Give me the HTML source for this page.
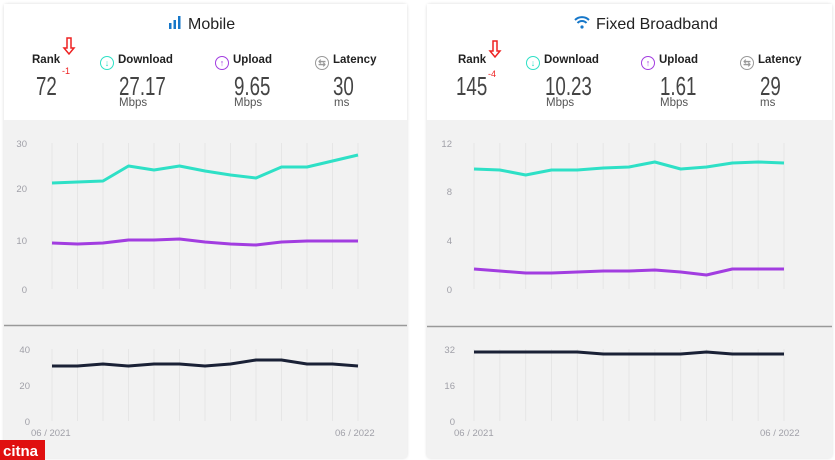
<!DOCTYPE html>
<html><head><meta charset="utf-8"><style>
body{margin:0;width:835px;height:460px;background:#fff;position:relative;overflow:hidden;font-family:"Liberation Sans",sans-serif}
.card{position:absolute;top:4px;height:454px;background:#f2f2f2;box-shadow:0 0 3px rgba(0,0,0,.15);border-radius:3px}
.hdr{position:absolute;left:0;right:0;top:0;height:116px;background:#fff}
.lab{position:absolute;top:54px;font-size:11.5px;font-weight:bold;color:#222}
.val{position:absolute;top:71px;font-size:26px;color:#444;font-weight:300;transform:scaleX(.72);transform-origin:left}
.unit{position:absolute;top:97px;font-size:11.5px;color:#555}
.ic{display:inline-block;width:12px;height:12px;border:1.3px solid;border-radius:50%;font-size:9px;line-height:12px;text-align:center;vertical-align:-3px;margin-right:4px}
</style></head><body>
<div class="card" style="left:4px;width:403px"><div class="hdr"></div></div>
<div class="card" style="left:427px;width:405px"><div class="hdr"></div></div>
<svg width="835" height="460" style="position:absolute;left:0;top:0" font-family="Liberation Sans,sans-serif">
<g fill="#1677c9"><rect x="169" y="23" width="2.5" height="6"/><rect x="173.5" y="20" width="2.5" height="9"/><rect x="178" y="16" width="2.5" height="13"/></g>
<text x="188" y="29" font-size="16" fill="#222">Mobile</text>
<text x="596" y="29" font-size="16" fill="#222">Fixed Broadband</text>
<path d="M575 20 a10 10 0 0 1 14 0 M577.5 23 a6 6 0 0 1 9 0" stroke="#1677c9" stroke-width="2" fill="none"/><circle cx="582" cy="27" r="1.6" fill="#1677c9"/>
<g stroke="#e22" stroke-width="1.5" fill="none"><path d="M67 38v10h-3l5 6 5-6h-3v-10z"/><path d="M493 41v10h-3l5 6 5-6h-3v-10z"/></g>
<text x="62" y="74" font-size="9" fill="#e22">-1</text><text x="488" y="77" font-size="9" fill="#e22">-4</text>
<g stroke="#999" stroke-width="1.5"><line x1="4" y1="325.5" x2="407" y2="325.5"/><line x1="427" y1="326.5" x2="832" y2="326.5"/></g>
<g stroke="#e6e6e6" stroke-width="1">
<path d="M52 143V289M77.5 143V289M103 143V289M128.5 143V289M154 143V289M179.5 143V289M205 143V289M230.5 143V289M256 143V289M281.5 143V289M307 143V289M332.5 143V289M358 143V289"/>
<path d="M52 349V421M77.5 349V421M103 349V421M128.5 349V421M154 349V421M179.5 349V421M205 349V421M230.5 349V421M256 349V421M281.5 349V421M307 349V421M332.5 349V421M358 349V421"/>
<path d="M474 143V289M499.8 143V289M525.7 143V289M551.5 143V289M577.3 143V289M603.2 143V289M629 143V289M654.8 143V289M680.7 143V289M706.5 143V289M732.3 143V289M758.2 143V289M784 143V289"/>
<path d="M474 349V421M499.8 349V421M525.7 349V421M551.5 349V421M577.3 349V421M603.2 349V421M629 349V421M654.8 349V421M680.7 349V421M706.5 349V421M732.3 349V421M758.2 349V421M784 349V421"/>
</g>
<g font-size="9.5" fill="#a0a0a8" text-anchor="end">
<text x="27" y="147">30</text><text x="27" y="192">20</text><text x="27" y="244">10</text><text x="27" y="293">0</text>
<text x="30" y="353">40</text><text x="30" y="389">20</text><text x="30" y="425">0</text>
<text x="452" y="147">12</text><text x="452" y="195">8</text><text x="452" y="244">4</text><text x="452" y="293">0</text>
<text x="455" y="353">32</text><text x="455" y="389">16</text><text x="455" y="425">0</text>
</g>
<g font-size="9.5" fill="#a0a0a8"><text x="31" y="436">06 / 2021</text><text x="335" y="436">06 / 2022</text><text x="454" y="436">06 / 2021</text><text x="760" y="436">06 / 2022</text></g>
<g fill="none" stroke-width="3" stroke-linejoin="round">
<polyline stroke="#2ee0c6" points="52,183 77.5,182 103,181 128.5,166 154,170 179.5,166 205,171 230.5,175 256,178 281.5,167 307,167 332.5,161 358,155"/>
<polyline stroke="#a23de0" points="52,243 77.5,244 103,243 128.5,240 154,240 179.5,239 205,242 230.5,244 256,245 281.5,242 307,241 332.5,241 358,241"/>
<polyline stroke="#1a2136" points="52,366 77.5,366 103,364 128.5,366 154,364 179.5,364 205,366 230.5,364 256,360 281.5,360 307,364 332.5,364 358,366"/>
<polyline stroke="#2ee0c6" points="474,169 499.8,170 525.7,175 551.5,170 577.3,170 603.2,168 629,167 654.8,162 680.7,169 706.5,167 732.3,163 758.2,162 784,163"/>
<polyline stroke="#a23de0" points="474,269 499.8,271 525.7,273 551.5,273 577.3,272 603.2,271 629,271 654.8,270 680.7,272 706.5,275 732.3,269 758.2,269 784,269"/>
<polyline stroke="#1a2136" points="474,352 499.8,352 525.7,352 551.5,352 577.3,352 603.2,354 629,354 654.8,354 680.7,354 706.5,352 732.3,354 758.2,354 784,354"/>
</g>
<rect x="0" y="440" width="45" height="20" fill="#e01010"/>
<text x="3" y="456" font-size="15" font-weight="bold" fill="#fff">citna</text>
</svg>
<div class="lab" style="left:32px">Rank</div>
<div class="lab" style="left:100px"><span class="ic" style="border-color:#2ee0c6;color:#2ee0c6">↓</span>Download</div>
<div class="lab" style="left:215px"><span class="ic" style="border-color:#a23de0;color:#a23de0">↑</span>Upload</div>
<div class="lab" style="left:315px"><span class="ic" style="border-color:#999;color:#999">⇆</span>Latency</div>
<div class="val" style="left:36px">72</div>
<div class="val" style="left:119px">27.17</div><div class="unit" style="left:119px">Mbps</div>
<div class="val" style="left:234px">9.65</div><div class="unit" style="left:234px">Mbps</div>
<div class="val" style="left:333px">30</div><div class="unit" style="left:334px">ms</div>
<div class="lab" style="left:458px">Rank</div>
<div class="lab" style="left:526px"><span class="ic" style="border-color:#2ee0c6;color:#2ee0c6">↓</span>Download</div>
<div class="lab" style="left:641px"><span class="ic" style="border-color:#a23de0;color:#a23de0">↑</span>Upload</div>
<div class="lab" style="left:740px"><span class="ic" style="border-color:#999;color:#999">⇆</span>Latency</div>
<div class="val" style="left:456px">145</div>
<div class="val" style="left:545px">10.23</div><div class="unit" style="left:546px">Mbps</div>
<div class="val" style="left:660px">1.61</div><div class="unit" style="left:660px">Mbps</div>
<div class="val" style="left:760px">29</div><div class="unit" style="left:760px">ms</div>
</body></html>
